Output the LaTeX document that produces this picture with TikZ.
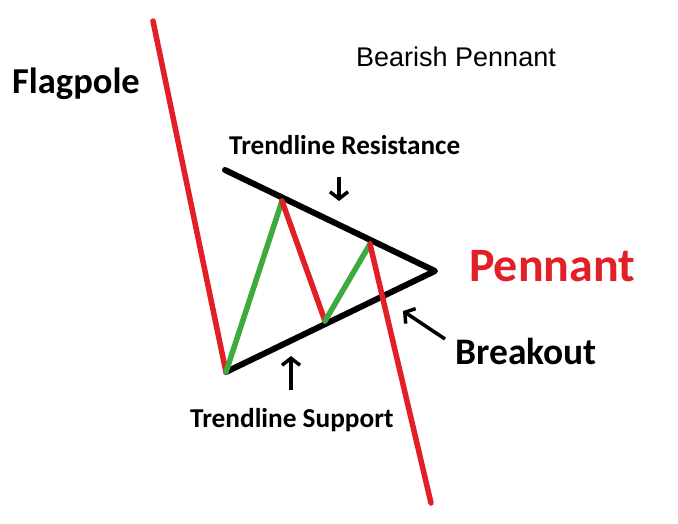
\documentclass[tikz,border=0pt]{standalone}
\usepackage{fontspec}
\setmainfont{Carlito}
\newfontfamily\arialfont{Liberation Sans}
\usetikzlibrary{arrows.meta}
\definecolor{pred}{RGB}{226,30,38}
\definecolor{pgreen}{RGB}{60,170,60}
\tikzset{
  redline/.style={draw=pred,line width=5.5pt,line cap=round,line join=round},
  greenline/.style={draw=pgreen,line width=5.5pt,line cap=round,line join=round},
  trendline/.style={draw=black,line width=6pt,line cap=round,line join=round},
  pointer/.style={draw=black,line width=3.5pt,-{Straight Barb[length=7pt,width=18pt,line width=3.5pt]}},
  lbl/.style={anchor=base west,inner sep=0pt,font=\bfseries}
}
\begin{document}
\begin{tikzpicture}[x=1pt,y=-1pt]
\useasboundingbox[fill=white] (0,0) rectangle (678,523);
% key points
\coordinate (top) at (153,21);
\coordinate (low) at (226,372);
\coordinate (p1) at (282,201);
\coordinate (t1) at (325,321);
\coordinate (p2) at (370,244);
\coordinate (end) at (431,503);
\coordinate (rstart) at (225,170);
\coordinate (apex) at (435,271);
% trendlines
\draw[trendline] (rstart) -- (apex) -- (low);
% price path
\draw[redline] (top) -- (low);
\draw[greenline] (low) -- (p1);
\draw[redline] (p1) -- (t1);
\draw[greenline] (t1) -- (p2);
\draw[redline] (p2) -- (end);
% pointers
\coordinate (a1s) at (339,177); \coordinate (a1e) at (339,201);
\coordinate (a2s) at (291,390); \coordinate (a2e) at (291,356);
\coordinate (a3s) at (445,339); \coordinate (a3e) at (403,311);
\draw[pointer] (a1s) -- (a1e);
\draw[pointer] (a2s) -- (a2e);
\draw[pointer] (a3s) -- (a3e);
% labels
\node[lbl,font=\bfseries\fontsize{36.5}{40}\selectfont] (flag) at (12,93) {Flagpole};
\node[lbl,anchor=base west,inner sep=0pt,font=\arialfont\fontsize{27}{30}\selectfont] (title) at (356,66) {Bearish Pennant};
\node[lbl,font=\bfseries\fontsize{27.2}{30}\selectfont] (tres) at (229,154) {Trendline Resistance};
\node[lbl,text=pred,font=\bfseries\fontsize{48}{52}\selectfont] (pen) at (469,281) {Pennant};
\node[lbl,font=\bfseries\fontsize{37.5}{42}\selectfont] (brk) at (455,364) {Breakout};
\node[lbl,font=\bfseries\fontsize{27.3}{30}\selectfont] (tsup) at (190,427) {Trendline Support};
\end{tikzpicture}
\end{document}
